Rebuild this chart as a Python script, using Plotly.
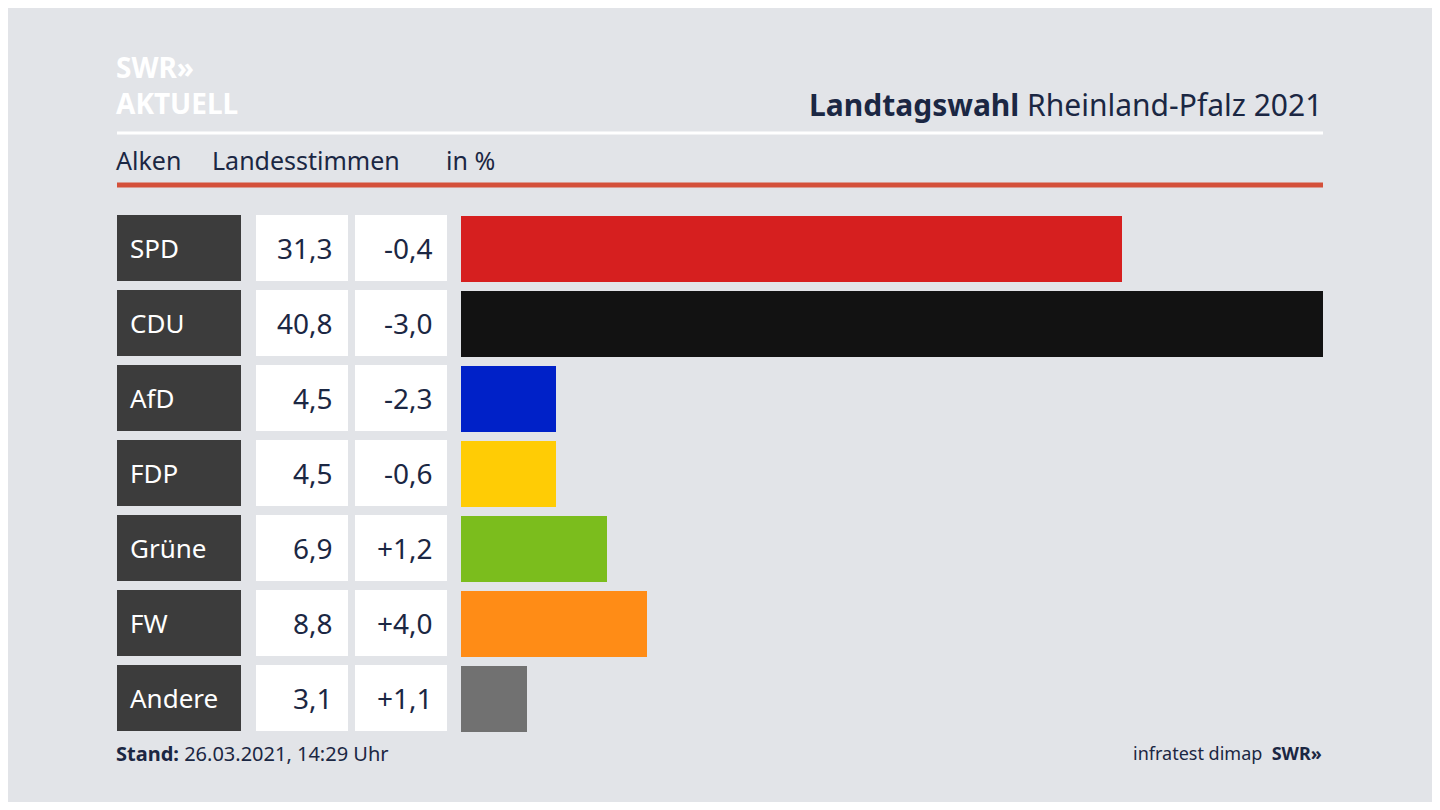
import plotly.graph_objects as go

parties = ["SPD", "CDU", "AfD", "FDP", "Grüne", "FW", "Andere"]
shares = [31.3, 40.8, 4.5, 4.5, 6.9, 8.8, 3.1]
changes = ["-0,4", "-3,0", "-2,3", "-0,6", "+1,2", "+4,0", "+1,1"]
colors = ["#d61f1f", "#121212", "#0021c8", "#ffcc05", "#7bbd1d", "#ff8c16", "#717171"]

W, H = 1424, 794
OFF = 8
def px(x): return (x - OFF) / W
def py(y): return 1 - (y - OFF) / H

FONT = "Noto Sans"
NAVY = "#1b2743"

fig = go.Figure(go.Bar(
    x=shares, y=list(range(len(parties))), orientation="h",
    marker=dict(color=colors, line=dict(width=0)), width=0.88, hoverinfo="skip"))

shapes, ann = [], []
def A(x, y, text, size, color=NAVY, xa="left", yref="paper"):
    ann.append(dict(x=x, y=y, xref="paper", yref=yref, text=text, showarrow=False,
                    xanchor=xa, yanchor="middle", borderpad=0,
                    font=dict(family=FONT, size=size, color=color)))

for i, p in enumerate(parties):
    for x0, x1, c in [(117, 241, "#3c3c3c"), (256, 348, "white"), (355, 447, "white")]:
        shapes.append(dict(type="rect", xref="paper", yref="y", x0=px(x0), x1=px(x1),
                           y0=i - 0.44, y1=i + 0.44, fillcolor=c, line=dict(width=0), layer="below"))
    A(px(129), i, p, 26, "white", "left", "y")
    A(px(334), i, f"{shares[i]:.1f}".replace(".", ","), 28, NAVY, "right", "y")
    A(px(434), i, changes[i], 28, NAVY, "right", "y")

shapes += [
    dict(type="line", xref="paper", yref="paper", x0=px(117), x1=px(1323), y0=py(133), y1=py(133),
         line=dict(color="white", width=3)),
    dict(type="line", xref="paper", yref="paper", x0=px(117), x1=px(1323), y0=py(185), y1=py(185),
         line=dict(color="#d4503a", width=5)),
]

A(px(115), py(67), "<b>SWR»</b>", 28, "white")
A(px(115), py(103), "<b>AKTUELL</b>", 28, "white")
A(px(1323), py(105), "<b>Landtagswahl</b> Rheinland-Pfalz 2021", 30, NAVY, "right")
A(px(115), py(160), "Alken", 25)
A(px(211), py(160), "Landesstimmen", 25)
A(px(445), py(160), "in %", 25)
A(px(115), py(753), "<b>Stand:</b> 26.03.2021, 14:29 Uhr", 20)
A(px(1323), py(753), "infratest dimap  <b>SWR»</b>", 18, NAVY, "right")

fig.update_layout(
    width=W, height=H, margin=dict(l=0, r=0, t=0, b=0),
    paper_bgcolor="#e2e4e8", plot_bgcolor="rgba(0,0,0,0)",
    showlegend=False, bargap=0,
    xaxis=dict(domain=[px(461), px(1323)], range=[0, 40.8], visible=False),
    yaxis=dict(domain=[py(735.5), py(210.5)], range=[6.5, -0.5], visible=False),
    shapes=shapes, annotations=ann,
)
fig.write_html("out.html")
